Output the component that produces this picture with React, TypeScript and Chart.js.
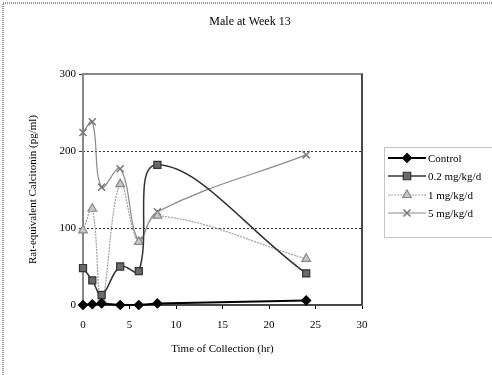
import React, { useEffect, useRef } from "react";
import { Chart, registerables } from "chart.js";

Chart.register(...registerables);

const TITLE = "Male at Week 13";
const X_TITLE = "Time of Collection (hr)";
const Y_TITLE = "Rat-equivalent Calcitonin (pg/ml)";

const times = [0, 1, 2, 4, 6, 8, 24];
const seriesNames = ["Control", "0.2 mg/kg/d", "1 mg/kg/d", "5 mg/kg/d"];
const control = [0, 1, 2, 0, 0, 2, 6];
const dose02 = [48, 32, 13, 50, 44, 182, 41];
const dose1 = [97, 125, 6, 157, 82, 116, 60];
const dose5 = [224, 238, 153, 177, 84, 121, 195];

const xTicks = [0, 5, 10, 15, 20, 25, 30];
const yTicks = [0, 100, 200, 300];

const FONT = "'Liberation Serif', 'DejaVu Serif', serif";

type Style = {
  line: string;
  width: number;
  dash: number[];
  point: string;
  fill: string;
  stroke: string;
  radius: number;
  tension: number;
};

const styles: Style[] = [
  { line: "#000", width: 2, dash: [], point: "rectRot", fill: "#000", stroke: "#000", radius: 4.5, tension: 0 },
  { line: "#333", width: 1.5, dash: [], point: "rect", fill: "#6a6a6a", stroke: "#333", radius: 5, tension: 0.4 },
  { line: "#a0a0a0", width: 1.2, dash: [2, 1], point: "triangle", fill: "#c8c8c8", stroke: "#888", radius: 5, tension: 0.4 },
  { line: "#8a8a8a", width: 1.2, dash: [], point: "crossRot", fill: "#888", stroke: "#777", radius: 5, tension: 0.4 },
];

const allValues = [control, dose02, dose1, dose5];

function drawMarker(ctx: CanvasRenderingContext2D, s: Style, x: number, y: number) {
  const r = s.radius;
  ctx.save();
  ctx.setLineDash([]);
  ctx.fillStyle = s.fill;
  ctx.strokeStyle = s.stroke;
  ctx.lineWidth = 1.2;
  ctx.beginPath();
  if (s.point === "rectRot") {
    ctx.moveTo(x, y - r);
    ctx.lineTo(x + r, y);
    ctx.lineTo(x, y + r);
    ctx.lineTo(x - r, y);
    ctx.closePath();
    ctx.fill();
    ctx.stroke();
  } else if (s.point === "rect") {
    const h = r * 0.75;
    ctx.rect(x - h, y - h, 2 * h, 2 * h);
    ctx.fill();
    ctx.stroke();
  } else if (s.point === "triangle") {
    ctx.moveTo(x, y - r);
    ctx.lineTo(x + r * 0.87, y + r * 0.5);
    ctx.lineTo(x - r * 0.87, y + r * 0.5);
    ctx.closePath();
    ctx.fill();
    ctx.stroke();
  } else {
    const h = r * 0.7;
    ctx.lineWidth = 1.5;
    ctx.moveTo(x - h, y - h);
    ctx.lineTo(x + h, y + h);
    ctx.moveTo(x + h, y - h);
    ctx.lineTo(x - h, y + h);
    ctx.stroke();
  }
  ctx.restore();
}

const decorPlugin = {
  id: "decor",
  beforeDatasetsDraw(chart: any) {
    const { ctx, chartArea } = chart;
    ctx.save();
    ctx.strokeStyle = "#888";
    ctx.lineWidth = 2;
    ctx.strokeRect(chartArea.left, chartArea.top, chartArea.right - chartArea.left, chartArea.bottom - chartArea.top);
    ctx.strokeStyle = "#333";
    ctx.lineWidth = 1.5;
    ctx.beginPath();
    ctx.moveTo(chartArea.left, chartArea.bottom);
    ctx.lineTo(chartArea.right, chartArea.bottom);
    ctx.moveTo(chartArea.right, chartArea.top);
    ctx.lineTo(chartArea.right, chartArea.bottom);
    ctx.stroke();
    ctx.restore();
  },
  afterDraw(chart: any) {
    const { ctx, chartArea } = chart;
    ctx.save();
    // outer frame
    ctx.strokeStyle = "#777";
    ctx.lineWidth = 1.5;
    ctx.setLineDash([1, 1]);
    ctx.strokeRect(3, 3, 520, 400);
    // title
    ctx.setLineDash([]);
    ctx.fillStyle = "#000";
    ctx.font = "12px " + FONT;
    ctx.textAlign = "center";
    ctx.textBaseline = "middle";
    ctx.fillText(TITLE, 250, 22);
    // legend box
    const bx = 384, by = 147, bh = 90;
    ctx.strokeStyle = "#888";
    ctx.lineWidth = 1;
    ctx.setLineDash([1, 1]);
    ctx.strokeRect(bx + 0.5, by + 0.5, 200, bh);
    ctx.setLineDash([]);
    const rows = [158, 176, 195, 213];
    ctx.font = "11px " + FONT;
    ctx.textAlign = "left";
    seriesNames.forEach((name, i) => {
      const s = styles[i];
      const y = rows[i];
      ctx.save();
      ctx.strokeStyle = s.line;
      ctx.lineWidth = s.width;
      ctx.setLineDash(s.dash);
      ctx.beginPath();
      ctx.moveTo(388, y);
      ctx.lineTo(426, y);
      ctx.stroke();
      ctx.restore();
      drawMarker(ctx, s, 407, y);
      ctx.fillStyle = "#000";
      ctx.fillText(name, 428, y + 1);
    });
    ctx.restore();
  },
};

export default function App() {
  const ref = useRef<HTMLCanvasElement | null>(null);

  useEffect(() => {
    document.body.style.margin = "0";
    const canvas = ref.current;
    if (!canvas) return;
    const chart = new Chart(canvas, {
      type: "line",
      data: {
        datasets: seriesNames.map((name, i) => {
          const s = styles[i];
          return {
            label: name,
            data: times.map((t, j) => ({ x: t, y: allValues[i][j] })),
            borderColor: s.line,
            borderWidth: s.width,
            borderDash: s.dash,
            backgroundColor: s.fill,
            pointStyle: s.point as any,
            pointRadius: s.radius,
            pointBackgroundColor: s.fill,
            pointBorderColor: s.stroke,
            pointBorderWidth: s.point === "crossRot" ? 1.5 : 1.2,
            tension: s.tension,
            fill: false,
            clip: false as any,
          };
        }),
      },
      options: {
        animation: false,
        responsive: false,
        layout: { padding: { left: 23, right: 130, top: 74, bottom: 15 } },
        plugins: {
          legend: { display: false },
          title: { display: false },
          tooltip: { enabled: false },
        },
        scales: {
          x: {
            type: "linear",
            min: 0,
            max: 30,
            afterFit: (s: any) => {
              s.height = 55;
            },
            afterBuildTicks: (s: any) => {
              s.ticks = xTicks.map((v) => ({ value: v }));
            },
            ticks: {
              color: "#000",
              font: { family: FONT, size: 11 },
              padding: 10,
              maxRotation: 0,
            },
            grid: {
              drawOnChartArea: false,
              drawTicks: true,
              tickLength: 4,
              color: "#000",
            },
            border: { display: false },
            title: {
              display: true,
              text: X_TITLE,
              color: "#000",
              font: { family: FONT, size: 11 },
              padding: { top: 4, bottom: 4 },
            },
          },
          y: {
            type: "linear",
            min: 0,
            max: 300,
            afterFit: (s: any) => {
              s.width = 60;
            },
            afterBuildTicks: (s: any) => {
              s.ticks = yTicks.map((v) => ({ value: v }));
            },
            ticks: {
              color: "#000",
              font: { family: FONT, size: 11 },
              padding: 3,
            },
            grid: {
              color: "#333",
              lineWidth: 1,
              tickLength: 4,
              tickBorderDash: [],
            } as any,
            border: { display: false, dash: [2, 2] } as any,
            title: {
              display: true,
              text: Y_TITLE,
              color: "#000",
              font: { family: FONT, size: 11 },
              padding: { top: 4, bottom: 4 },
            },
          },
        },
      },
      plugins: [
        decorPlugin,
        {
          id: "gridDash",
          beforeDraw(chart: any) {
            const y = chart.scales.y;
            y.options.grid.borderDash = [2, 2];
          },
        },
      ],
    });
    return () => chart.destroy();
  }, []);

  return <canvas ref={ref} width={492} height={375} style={{ display: "block" }} />;
}
